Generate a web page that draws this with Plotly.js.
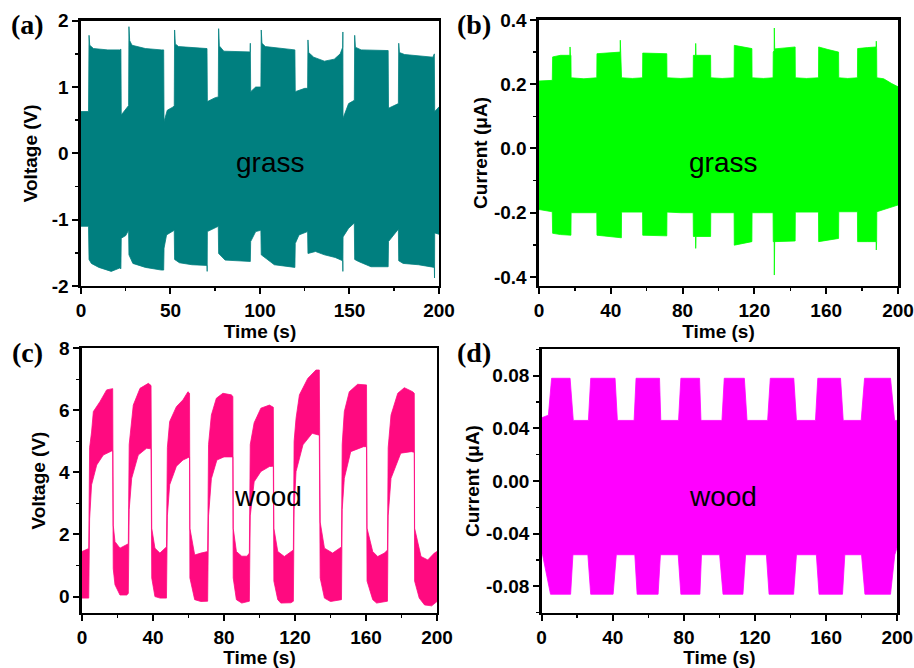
<!DOCTYPE html>
<html>
<head>
<meta charset="utf-8">
<script src="https://cdn.plot.ly/plotly-3.0.1.min.js"></script>
<style>html,body{margin:0;padding:0;background:#fff;}#chart{width:914px;height:668px;}</style>
</head>
<body>
<div id="chart"></div>
<script>
// ---------- data: envelopes [time (s), value] ----------
// (a) grass voltage (V)
var aTop = [[0,0.63],[4.2,0.63],[4.5,1.78],[4.9,1.63],[7,1.58],[15,1.56],[21.6,1.56],[22.3,1.57],[22.5,0.58],[25.8,0.7],[26.6,0.72],[26.8,1.91],[27.2,1.7],[28.5,1.63],[36,1.58],[44.9,1.56],[46.2,1.56],[46.4,0.48],[48.2,0.65],[51.5,0.7],[52.1,0.72],[52.3,1.86],[52.7,1.65],[54.5,1.61],[70,1.58],[70.4,1.58],[70.6,0.78],[75,0.84],[76.7,0.85],[76.9,1.88],[77.3,1.62],[79.8,1.54],[94.2,1.53],[94.5,1.53],[94.6,1.66],[94.8,0.93],[97.6,1.0],[100.5,1.0],[100.7,1.86],[101.1,1.66],[103,1.61],[118.4,1.56],[119.5,1.56],[119.7,0.93],[125,0.98],[126.6,0.98],[126.8,1.71],[127.2,1.52],[130,1.45],[136,1.39],[141.5,1.42],[144.8,1.5],[146.2,1.6],[146.3,1.83],[146.4,0.53],[149.5,0.75],[152.7,0.8],[152.9,1.78],[153.3,1.6],[156.5,1.56],[170.6,1.55],[171.6,1.55],[171.8,0.68],[176.8,0.75],[177.3,0.75],[177.5,1.66],[177.9,1.52],[180.8,1.49],[196.6,1.45],[197.4,1.5],[197.6,0.63],[200,0.7]];
var aBottom = [[0,-1.1],[4.2,-1.1],[4.5,-1.6],[5.8,-1.66],[10,-1.72],[16.9,-1.78],[21.6,-1.73],[22.3,-1.74],[22.5,-1.28],[25,-1.24],[26.6,-1.16],[26.8,-1.53],[29,-1.66],[36,-1.72],[44.9,-1.76],[46.2,-1.76],[46.4,-1.43],[47.8,-1.23],[52.1,-1.16],[52.3,-1.6],[55,-1.65],[62,-1.68],[70.4,-1.69],[70.5,-1.78],[70.6,-1.18],[76.7,-1.1],[76.9,-1.51],[80.5,-1.61],[94.6,-1.63],[94.8,-1.33],[97.6,-1.18],[100.5,-1.16],[100.7,-1.53],[108,-1.68],[119.5,-1.72],[119.7,-1.36],[121.8,-1.23],[126.6,-1.18],[126.8,-1.51],[131,-1.48],[136,-1.53],[142,-1.57],[146.2,-1.62],[146.3,-1.78],[146.4,-1.26],[149.5,-1.13],[152.7,-1.05],[152.9,-1.6],[155,-1.63],[162,-1.71],[171.6,-1.71],[171.8,-1.33],[176.8,-1.16],[177.3,-1.15],[177.5,-1.62],[180,-1.66],[188.5,-1.68],[197.4,-1.72],[197.5,-1.88],[197.6,-1.2],[200,-1.22]];

// (b) grass current (uA)
var bTop = [[0,0.21],[7.4,0.212],[7.6,0.285],[12,0.29],[17.2,0.29],[17.3,0.316],[17.5,0.29],[17.8,0.29],[17.9,0.22],[25,0.217],[32.2,0.22],[32.3,0.295],[38,0.298],[45.2,0.3],[45.3,0.337],[45.5,0.3],[45.9,0.3],[46,0.22],[52,0.218],[57.7,0.22],[57.8,0.297],[64,0.296],[71.2,0.295],[71.3,0.22],[79,0.218],[85.9,0.22],[86,0.29],[87.2,0.29],[87.3,0.327],[87.5,0.29],[95.6,0.29],[95.7,0.22],[102,0.218],[108.7,0.22],[108.8,0.321],[114,0.315],[118.6,0.311],[118.7,0.22],[125,0.218],[130.4,0.22],[130.5,0.3],[131,0.305],[131.1,0.375],[131.3,0.31],[137,0.313],[142.7,0.316],[142.8,0.22],[149,0.218],[155.7,0.22],[155.8,0.316],[161,0.308],[166.9,0.3],[167,0.22],[172,0.218],[177.4,0.22],[177.5,0.311],[183,0.314],[187.8,0.316],[187.9,0.334],[188.1,0.31],[188.2,0.22],[192,0.217],[196.5,0.202],[200,0.192]];
var bBottom = [[0,-0.19],[7.4,-0.197],[7.6,-0.264],[12,-0.268],[17.8,-0.27],[17.9,-0.2],[25,-0.2],[32.2,-0.2],[32.3,-0.27],[38,-0.274],[45.9,-0.278],[46,-0.198],[52,-0.198],[57.7,-0.198],[57.8,-0.27],[64,-0.27],[71.2,-0.272],[71.3,-0.198],[79,-0.2],[85.9,-0.2],[86,-0.274],[87.2,-0.274],[87.3,-0.311],[87.5,-0.274],[95.6,-0.274],[95.7,-0.2],[102,-0.2],[108.7,-0.2],[108.8,-0.301],[114,-0.295],[118.6,-0.29],[118.7,-0.2],[125,-0.2],[130.4,-0.2],[130.5,-0.29],[131,-0.29],[131.1,-0.394],[131.3,-0.29],[137,-0.29],[142.7,-0.288],[142.8,-0.198],[149,-0.198],[155.7,-0.198],[155.8,-0.29],[161,-0.285],[166.9,-0.28],[167,-0.197],[172,-0.197],[177.4,-0.197],[177.5,-0.29],[183,-0.29],[187.8,-0.29],[187.9,-0.316],[188.1,-0.29],[188.2,-0.197],[194,-0.186],[200,-0.176]];

// (c) wood voltage (V)
var cTop = [[0,1.45],[2,1.5],[3.8,1.55],[4.3,4.8],[5.4,5.3],[6.4,5.96],[10.1,6.28],[13.9,6.66],[17.3,6.7],[17.6,2.3],[18.6,1.77],[21.4,1.56],[25.2,1.66],[26.1,1.7],[26.6,4.9],[28.9,6.17],[32.7,6.71],[37.4,6.87],[38.9,6.8],[39.3,2.2],[41.1,1.56],[43.9,1.4],[46.8,1.56],[47.6,1.6],[48.1,4.8],[49.4,5.64],[53.2,6.12],[56.9,6.34],[59.7,6.6],[60.6,6.55],[60.8,2.2],[63.5,1.34],[67,1.4],[70.8,1.45],[71.3,4.9],[72.9,5.85],[75.7,6.39],[79.4,6.55],[84.1,6.5],[85,6.45],[85.2,2.2],[87,1.45],[90,1.3],[93,1.3],[94.3,1.4],[94.8,4.9],[97,5.6],[100.8,6.07],[105.6,6.17],[107.8,6.1],[108.1,2.2],[110.3,1.45],[114,1.29],[117.7,1.45],[119.1,1.5],[119.5,5.0],[120.6,5.74],[122.5,6.5],[127.2,7.03],[131.8,7.3],[133.7,7.3],[134.2,2.4],[136.6,1.56],[141.2,1.4],[145,1.56],[146.2,1.6],[146.6,4.9],[147.8,5.96],[150.6,6.6],[155.3,6.84],[160.3,6.82],[160.6,2.2],[163.8,1.45],[166.6,1.29],[170.4,1.4],[172.1,1.5],[172.5,4.8],[174.1,5.85],[177.9,6.55],[181.6,6.73],[186.3,6.6],[187.2,6.55],[187.4,2.2],[191,1.29],[194.8,1.18],[198.5,1.4],[200,1.45]];
var cBottom = [[0,-0.05],[3.8,-0.05],[4.3,2.5],[5.4,3.6],[8.3,4.24],[12,4.56],[16.7,4.69],[17.3,4.7],[17.6,0.9],[18.6,0.38],[21.4,0.05],[25.2,0.05],[26.1,0.1],[26.6,2.8],[28,3.81],[31.7,4.56],[36.4,4.78],[38.9,4.76],[39.3,0.6],[41.1,0.0],[44,-0.05],[47.6,-0.05],[48.1,2.6],[49.4,3.6],[53.2,4.2],[56.9,4.4],[60.6,4.5],[60.8,0.6],[63.5,-0.1],[67,-0.16],[70.8,-0.15],[71.3,2.6],[72.9,3.8],[76,4.4],[80,4.5],[85,4.5],[85.2,0.6],[87,-0.1],[90,-0.21],[94.3,-0.15],[94.8,2.6],[97,3.7],[100.8,4.03],[105.6,4.19],[107.8,4.2],[108.1,0.5],[110.3,-0.1],[112,-0.21],[117.7,-0.2],[119.1,-0.15],[119.5,2.8],[120.6,4.03],[124.5,4.89],[129.7,5.26],[133.7,5.2],[134.2,0.6],[136.6,-0.05],[140,-0.16],[146.2,-0.1],[146.6,2.8],[147.8,3.81],[151.4,4.67],[158.6,4.83],[160.3,4.83],[160.6,0.5],[163.8,-0.1],[166,-0.21],[172.1,-0.15],[172.5,2.6],[174.1,3.81],[179.6,4.62],[185.5,4.67],[187.2,4.65],[187.4,0.5],[190,-0.05],[193,-0.27],[197,-0.3],[200,-0.16]];

// (d) wood current (uA)
var dTop = [[0,0.048],[3.8,0.05],[5.6,0.078],[16,0.078],[17.8,0.046],[26.3,0.046],[27.6,0.078],[41.3,0.078],[42.6,0.046],[52,0.046],[53.1,0.078],[66.3,0.078],[67,0.046],[77,0.046],[78.3,0.078],[88.8,0.078],[89.6,0.046],[101.4,0.046],[102.7,0.078],[114,0.078],[115.5,0.046],[127.1,0.046],[128.6,0.078],[141.8,0.078],[143.3,0.046],[154,0.046],[155.3,0.078],[168.1,0.078],[169.6,0.046],[179.7,0.046],[181.6,0.078],[196.2,0.078],[198.5,0.046],[200,0.046]];
var dBottom = [[0,-0.055],[0.5,-0.056],[5,-0.086],[16.3,-0.086],[17.6,-0.056],[26,-0.056],[27.6,-0.086],[40.2,-0.086],[42,-0.056],[52.4,-0.056],[53.7,-0.086],[65.5,-0.086],[66.8,-0.056],[76.8,-0.056],[78.3,-0.086],[89,-0.086],[89.9,-0.056],[100.1,-0.056],[102,-0.086],[113.2,-0.086],[114.7,-0.056],[126.4,-0.056],[127.9,-0.086],[141.7,-0.086],[143.3,-0.056],[154.5,-0.056],[156,-0.086],[169.2,-0.086],[170.5,-0.056],[179.9,-0.056],[181.8,-0.086],[196.2,-0.086],[198.6,-0.056],[200,-0.05]];

// ---------- tick labels ----------
var timeTicksA = [0, 50, 100, 150, 200];
var timeTicks = [0, 40, 80, 120, 160, 200];
var aYTicks = [-2, -1, 0, 1, 2];
var aYText = ["-2", "-1", "0", "1", "2"];
var bYTicks = [-0.4, -0.2, 0, 0.2, 0.4];
var bYText = ["-0.4", "-0.2", "0.0", "0.2", "0.4"];
var cYTicks = [0, 2, 4, 6, 8];
var cYText = ["0", "2", "4", "6", "8"];
var dYTicks = [-0.08, -0.04, 0, 0.04, 0.08];
var dYText = ["-0.08", "-0.04", "0.00", "0.04", "0.08"];

var panelLabels = ["(a)", "(b)", "(c)", "(d)"];
var sampleLabels = ["grass", "grass", "wood", "wood"];

// ---------- build ----------
function band(top, bottom, color, xa, ya) {
  var rev = bottom.slice().reverse();
  return {
    x: top.map(function(p){return p[0];}).concat(rev.map(function(p){return p[0];})),
    y: top.map(function(p){return p[1];}).concat(rev.map(function(p){return p[1];})),
    type: 'scatter', mode: 'lines', fill: 'toself', fillcolor: color,
    line: {color: color, width: 0.8}, xaxis: xa, yaxis: ya,
    hoverinfo: 'skip', showlegend: false
  };
}

var SANS = 'Arial, "Liberation Sans", sans-serif';
var SERIF = '"Times New Roman", "Liberation Serif", serif';
var tickFont = {family: SANS, size: 19, color: '#000', weight: 'bold'};
var titleFont = {family: SANS, size: 19, color: '#000', weight: 'bold'};

function xAxis(domain, anchor, ticks, minorStep, standoff) {
  return {
    domain: domain, anchor: anchor, range: [0, 200],
    tickmode: 'array', tickvals: ticks, ticktext: ticks.map(String),
    ticks: 'outside', ticklen: 6, tickwidth: 2, tickcolor: '#000',
    minor: {ticks: 'outside', ticklen: 3, tickwidth: 1.5, tickcolor: '#000', dtick: minorStep, tick0: 0},
    showline: true, mirror: true, linewidth: 2.5, linecolor: '#000',
    showgrid: false, zeroline: false, tickfont: tickFont,
    title: {text: 'Time (s)', font: titleFont, standoff: standoff}
  };
}
function yAxis(domain, anchor, range, vals, text, minorStep, title, standoff) {
  return {
    domain: domain, anchor: anchor, range: range,
    tickmode: 'array', tickvals: vals, ticktext: text,
    ticks: 'outside', ticklen: 6, tickwidth: 2, tickcolor: '#000',
    minor: {ticks: 'outside', ticklen: 3, tickwidth: 1.5, tickcolor: '#000', dtick: minorStep, tick0: 0},
    showline: true, mirror: true, linewidth: 2.5, linecolor: '#000',
    showgrid: false, zeroline: false, tickfont: tickFont,
    title: {text: title, font: titleFont, standoff: standoff}
  };
}

var data = [
  band(aTop, aBottom, '#007F7F', 'x', 'y'),
  band(bTop, bBottom, '#00FF00', 'x2', 'y2'),
  band(cTop, cBottom, '#FF0A80', 'x3', 'y3'),
  band(dTop, dBottom, '#FF00FF', 'x4', 'y4')
];

var annPos = [[0.2954, 0.756], [0.791, 0.756], [0.2932, 0.256], [0.791, 0.256]];
var lblPos = [[0.0306, 0.9626], [0.5186, 0.9626], [0.0306, 0.4716], [0.5186, 0.4716]];
var annotations = [];
for (var i = 0; i < 4; i++) {
  annotations.push({text: sampleLabels[i], xref: 'paper', yref: 'paper', x: annPos[i][0], y: annPos[i][1],
    showarrow: false, font: {family: SANS, size: 28, color: '#000'}, xanchor: 'center', yanchor: 'middle'});
  annotations.push({text: panelLabels[i], xref: 'paper', yref: 'paper', x: lblPos[i][0], y: lblPos[i][1],
    showarrow: false, font: {family: SERIF, size: 28, color: '#000', weight: 'bold'}, xanchor: 'center', yanchor: 'middle'});
}

var layout = {
  width: 914, height: 668,
  margin: {l: 0, r: 0, t: 0, b: 0},
  paper_bgcolor: '#fff', plot_bgcolor: '#fff',
  showlegend: false,
  xaxis:  xAxis([0.0886, 0.4803], 'y',  timeTicksA, 25, 4),
  yaxis:  yAxis([0.5719, 0.9690], 'x',  [-2, 2], aYTicks, aYText, 0.5, 'Voltage (V)', 9),
  xaxis2: xAxis([0.5897, 0.9825], 'y2', timeTicks, 20, 4),
  yaxis2: yAxis([0.5719, 0.9701], 'x2', [-0.428, 0.4], bYTicks, bYText, 0.1, 'Current (\u03bcA)', 2),
  xaxis3: xAxis([0.0897, 0.4781], 'y3', timeTicks, 20, 4),
  yaxis3: yAxis([0.0828, 0.4786], 'x3', [-0.52, 8], cYTicks, cYText, 1, 'Voltage (V)', 9),
  xaxis4: xAxis([0.5926, 0.9817], 'y4', timeTicks, 20, 4),
  yaxis4: yAxis([0.0828, 0.4771], 'x4', [-0.1, 0.1], dYTicks, dYText, 0.02, 'Current (\u03bcA)', 2),
  annotations: annotations
};

Plotly.newPlot('chart', data, layout, {staticPlot: true, displayModeBar: false});
</script>
</body>
</html>
